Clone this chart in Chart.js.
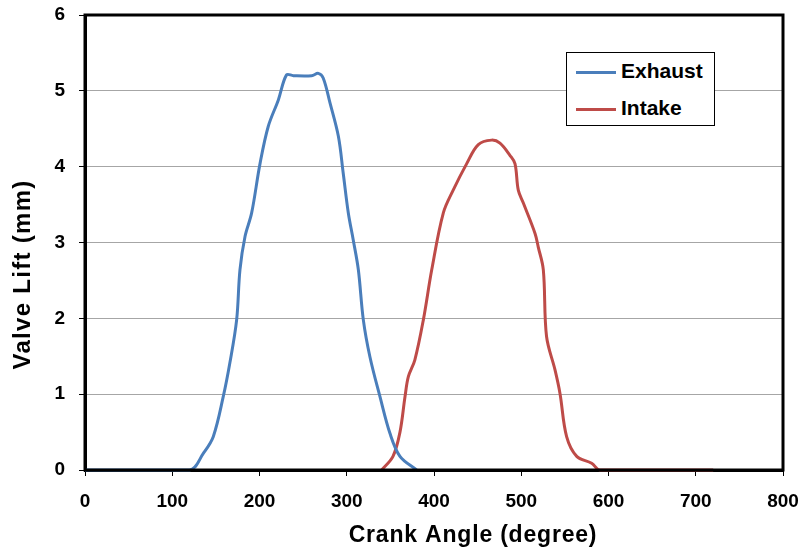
<!DOCTYPE html>
<html>
<head>
<meta charset="utf-8">
<script src="https://cdn.jsdelivr.net/npm/chart.js@4"></script>
<style>
    html, body { margin: 0; padding: 0; background: #fff; }
    #wrap { position: relative; width: 800px; height: 550px; }
    #legend {
        position: absolute; left: 566px; top: 52px; width: 149px; height: 74px;
        border: 1px solid #000; background: #fff; box-sizing: border-box;
        font: bold 21px "Liberation Sans", Arial, sans-serif; color: #000;
    }
    #legend .item { position: absolute; left: 9px; height: 24px; line-height: 24px; white-space: nowrap; }
    #legend .swatch { display: inline-block; width: 40px; height: 3px; vertical-align: middle; margin-right: 5px; }
</style>
</head>
<body>
<div id="wrap">
    <canvas id="liftChart" width="800" height="550"></canvas>
    <div id="legend"></div>
</div>
<script>
// Data katup
const exhaustAngle = [0, 120, 135.6, 147, 158.5, 166, 173.8, 177.6, 183.4, 191, 200.6, 210, 221.6, 231, 238.8, 259.8, 267.4, 273, 280.8, 290.4, 296, 301.8, 307.5, 313.3, 319, 326.6, 338, 349.6, 361, 380];
const exhaustLift  = [0, 0, 0.22, 0.44, 0.97, 1.41, 1.98, 2.64, 3.08, 3.39, 4.04, 4.53, 4.88, 5.21, 5.20, 5.20, 5.23, 5.17, 4.84, 4.40, 3.91, 3.39, 3.03, 2.64, 1.98, 1.49, 0.97, 0.48, 0.18, 0];

const intakeAngle = [340, 353, 361, 366.8, 370.6, 378, 387.8, 397.4, 410.7, 422, 437.5, 450.8, 466, 475.6, 487, 492.8, 496.6, 502.4, 515.8, 519.5, 525.3, 529, 538.7, 544.4, 552, 563.6, 580.7, 590, 720];
const intakeLift  = [0, 0.18, 0.5, 0.97, 1.23, 1.45, 1.98, 2.64, 3.39, 3.69, 4.04, 4.29, 4.35, 4.31, 4.15, 4.04, 3.69, 3.52, 3.12, 2.94, 2.64, 1.76, 1.32, 1.01, 0.44, 0.18, 0.09, 0, 0];

const xTicks = [0, 100, 200, 300, 400, 500, 600, 700, 800];
const yTicks = [0, 1, 2, 3, 4, 5, 6];

const seriesLabels = ['Exhaust', 'Intake'];
const seriesColors = ['#4a7ebb', '#be4b48'];
const xTitle = 'Crank Angle (degree)';
const yTitle = 'Valve Lift (mm)';

const FONT = '"Liberation Sans", Arial, sans-serif';

function toPoints(xs, ys) {
    return xs.map((x, i) => ({ x: x, y: ys[i] }));
}

// Bingkai plot (atas & kanan)
const framePlugin = {
    id: 'frame',
    afterDraw: function(chart) {
        const a = chart.chartArea;
        const ctx = chart.ctx;
        ctx.save();
        ctx.strokeStyle = '#000';
        ctx.lineWidth = 3;
        ctx.strokeRect(a.left, a.top, a.right - a.left, a.bottom - a.top);
        ctx.restore();
    }
};

// Judul sumbu (posisinya agak bergeser seperti di Excel)
const axisTitlePlugin = {
    id: 'axisTitles',
    afterDraw: function(chart) {
        const a = chart.chartArea;
        const ctx = chart.ctx;
        ctx.save();
        ctx.fillStyle = '#000';
        ctx.textAlign = 'center';

        ctx.font = 'bold 23px ' + FONT;
        ctx.letterSpacing = '0.8px';
        ctx.textBaseline = 'alphabetic';
        ctx.fillText(xTitle, (a.left + a.right) / 2 + 39, chart.height - 8);

        ctx.font = 'bold 24px ' + FONT;
        ctx.letterSpacing = '1.3px';
        ctx.textBaseline = 'middle';
        ctx.translate(23, (a.top + a.bottom) / 2 + 32);
        ctx.rotate(-Math.PI / 2);
        ctx.fillText(yTitle, 0, 0);
        ctx.restore();
    }
};

function makeDataset(i, xs, ys) {
    return {
        label: seriesLabels[i],
        data: toPoints(xs, ys),
        borderColor: seriesColors[i],
        borderWidth: 3,
        pointRadius: 0,
        tension: 0.35,
        clip: 4
    };
}

const ctx = document.getElementById('liftChart').getContext('2d');
const chart = new Chart(ctx, {
    type: 'line',
    data: {
        datasets: [
            makeDataset(0, exhaustAngle, exhaustLift),
            makeDataset(1, intakeAngle, intakeLift)
        ]
    },
    options: {
        responsive: false,
        animation: false,
        events: [],
        layout: { padding: { top: 15, right: 17, left: 0, bottom: 0 } },
        plugins: {
            legend: { display: false },
            tooltip: { enabled: false }
        },
        scales: {
            x: {
                type: 'linear',
                min: 0,
                max: 800,
                afterBuildTicks: function(scale) {
                    scale.ticks = xTicks.map(v => ({ value: v }));
                },
                afterFit: function(scale) {
                    scale.height = 80;
                    scale.paddingLeft = 0;
                    scale.paddingRight = 0;
                },
                grid: { drawOnChartArea: false, tickLength: 6, tickColor: '#000', tickWidth: 1 },
                border: { color: '#000', width: 3 },
                ticks: { color: '#000', padding: 14, maxRotation: 0, font: { family: FONT, size: 19, weight: 'bold' } }
            },
            y: {
                min: 0,
                max: 6,
                afterBuildTicks: function(scale) {
                    scale.ticks = yTicks.map(v => ({ value: v }));
                },
                afterFit: function(scale) {
                    scale.width = 85;
                    scale.paddingTop = 0;
                    scale.paddingBottom = 0;
                },
                grid: { color: '#a6a6a6', lineWidth: 1, tickLength: 6, tickColor: '#000' },
                border: { color: '#000', width: 3 },
                ticks: { color: '#000', padding: 14, font: { family: FONT, size: 19, weight: 'bold' } }
            }
        }
    },
    plugins: [framePlugin, axisTitlePlugin]
});

// Legenda HTML dari dataset
const legendEl = document.getElementById('legend');
chart.data.datasets.forEach(function(ds, i) {
    const item = document.createElement('div');
    item.className = 'item';
    item.style.top = (6 + i * 37) + 'px';
    item.innerHTML = '<span class="swatch" style="background:' + ds.borderColor + '"></span>' + ds.label;
    legendEl.appendChild(item);
});
</script>
</body>
</html>
